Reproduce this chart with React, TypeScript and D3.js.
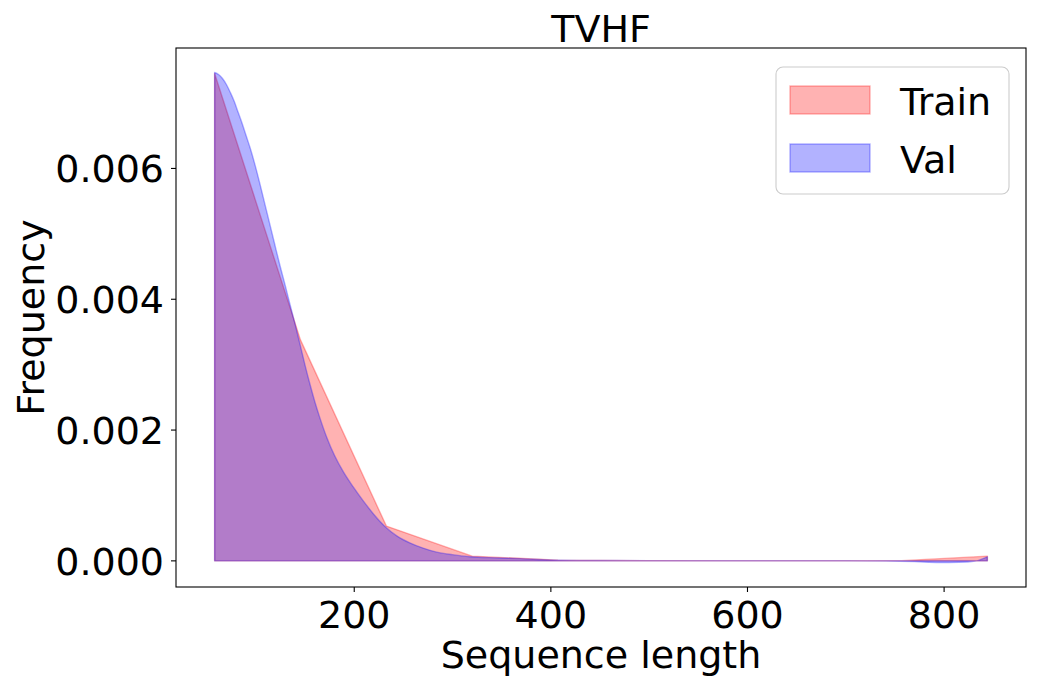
import React, { useEffect } from "react";
import * as d3 from "d3";

const TITLE = "TVHF";
const X_LABEL = "Sequence length";
const Y_LABEL = "Frequency";
const SERIES_NAMES = ["Train", "Val"];

// Train: 10 evenly spaced evaluation points (values in units of 1e-3)
const TRAIN_X = [58, 145.3, 232.7, 320, 407.3, 494.7, 582, 669.3, 756.7, 844];
const TRAIN_Y = [7.452, 3.379, 0.532, 0.072, 0.011, 0.004, 0.003, 0.003, 0.003, 0.072];

// Val: smooth curve samples (values in units of 1e-3)
const VAL_X = [
  58, 62, 66, 70, 74, 78, 82, 86, 90, 94, 99, 104, 109, 114, 119, 124, 130, 135, 140, 145,
  150, 155, 160, 165, 172, 180, 189, 199, 209, 220, 231, 244, 257, 270, 284, 300, 318, 343,
  369, 400, 450, 500, 550, 600, 650, 700, 740, 770, 795, 815, 832, 844,
];
const VAL_Y = [
  7.467, 7.437, 7.376, 7.284, 7.161, 7.024, 6.855, 6.687, 6.503, 6.32, 6.059, 5.768, 5.462,
  5.156, 4.849, 4.543, 4.2, 3.9, 3.609, 3.303, 2.99, 2.7, 2.43, 2.19, 1.89, 1.61,
  1.36, 1.13, 0.92, 0.71, 0.53, 0.375, 0.272, 0.196, 0.133, 0.095, 0.064, 0.046, 0.034,
  0.015, 0.006, 0.003, 0.002, 0.002, 0.002, 0.001, -0.003, -0.012, -0.025, -0.022, -0.002,
  0.062,
];

const X_TICKS = [200, 400, 600, 800];
const Y_TICKS = [0, 0.002, 0.004, 0.006];

const W = 1037;
const H = 688;
const M = { left: 176, right: 1026, top: 48, bottom: 587 };
const FONT = "'DejaVu Sans', sans-serif";
const FS = 38;

export default function App() {
  useEffect(() => {
    document.body.style.margin = "0";
  }, []);

  const train = TRAIN_X.map((x, i) => ({ x, y: TRAIN_Y[i] / 1000 }));
  const val = VAL_X.map((x, i) => ({ x, y: VAL_Y[i] / 1000 }));
  const all = [...train, ...val];
  const xMin = d3.min(all, (d) => d.x)!;
  const xMax = d3.max(all, (d) => d.x)!;
  const yMin = Math.min(0, d3.min(all, (d) => d.y)!);
  const yMax = d3.max(all, (d) => d.y)!;
  const xPad = (xMax - xMin) * 0.05;
  const yPad = (yMax - yMin) * 0.05;

  const x = d3.scaleLinear().domain([xMin - xPad, xMax + xPad]).range([M.left, M.right]);
  const y = d3.scaleLinear().domain([yMin - yPad, yMax + yPad]).range([M.bottom, M.top]);

  const trainArea = d3
    .area<{ x: number; y: number }>()
    .x((d) => x(d.x))
    .y0(y(0))
    .y1((d) => y(d.y));
  const valArea = d3
    .area<{ x: number; y: number }>()
    .x((d) => x(d.x))
    .y0(y(0))
    .y1((d) => y(d.y))
    .curve(d3.curveMonotoneX);

  const red = "rgba(255,0,0,0.3)";
  const blue = "rgba(0,0,255,0.3)";

  return (
    <svg width={W} height={H} style={{ display: "block" }} fontFamily={FONT}>
      <rect x={0} y={0} width={W} height={H} fill="white" />
      <path d={trainArea(train)!} fill={red} stroke={red} strokeWidth={1.4} strokeLinejoin="round" />
      <path d={valArea(val)!} fill={blue} stroke={blue} strokeWidth={1.4} strokeLinejoin="round" />

      <rect
        x={M.left}
        y={M.top}
        width={M.right - M.left}
        height={M.bottom - M.top}
        fill="none"
        stroke="black"
        strokeWidth={1.1}
      />

      {X_TICKS.map((t) => (
        <g key={"x" + t}>
          <line x1={x(t)} x2={x(t)} y1={M.bottom} y2={M.bottom + 5} stroke="black" strokeWidth={1.1} />
          <text x={x(t)} y={628} textAnchor="middle" fontSize={FS} fill="black">
            {t}
          </text>
        </g>
      ))}
      {Y_TICKS.map((t) => (
        <g key={"y" + t}>
          <line x1={M.left - 5} x2={M.left} y1={y(t)} y2={y(t)} stroke="black" strokeWidth={1.1} />
          <text x={164} y={y(t)} dy="0.36em" textAnchor="end" fontSize={FS} fill="black">
            {t.toFixed(3)}
          </text>
        </g>
      ))}

      <text x={(M.left + M.right) / 2} y={42} textAnchor="middle" fontSize={FS} fill="black">
        {TITLE}
      </text>
      <text x={(M.left + M.right) / 2} y={668} textAnchor="middle" fontSize={FS} fill="black">
        {X_LABEL}
      </text>
      <text
        transform={`translate(44,${(M.top + M.bottom) / 2}) rotate(-90)`}
        textAnchor="middle"
        fontSize={FS}
        fill="black"
      >
        {Y_LABEL}
      </text>

      <g>
        <rect x={776} y={67} width={233} height={127} rx={7} fill="white" fillOpacity={0.8} stroke="#cccccc" strokeWidth={1.1} />
        {SERIES_NAMES.map((name, i) => (
          <g key={name}>
            <rect
              x={790}
              y={86 + i * 58}
              width={80}
              height={28}
              fill={i === 0 ? red : blue}
              stroke={i === 0 ? red : blue}
              strokeWidth={1.4}
            />
            <text x={900} y={115 + i * 58} fontSize={FS} fill="black">
              {name}
            </text>
          </g>
        ))}
      </g>
    </svg>
  );
}
